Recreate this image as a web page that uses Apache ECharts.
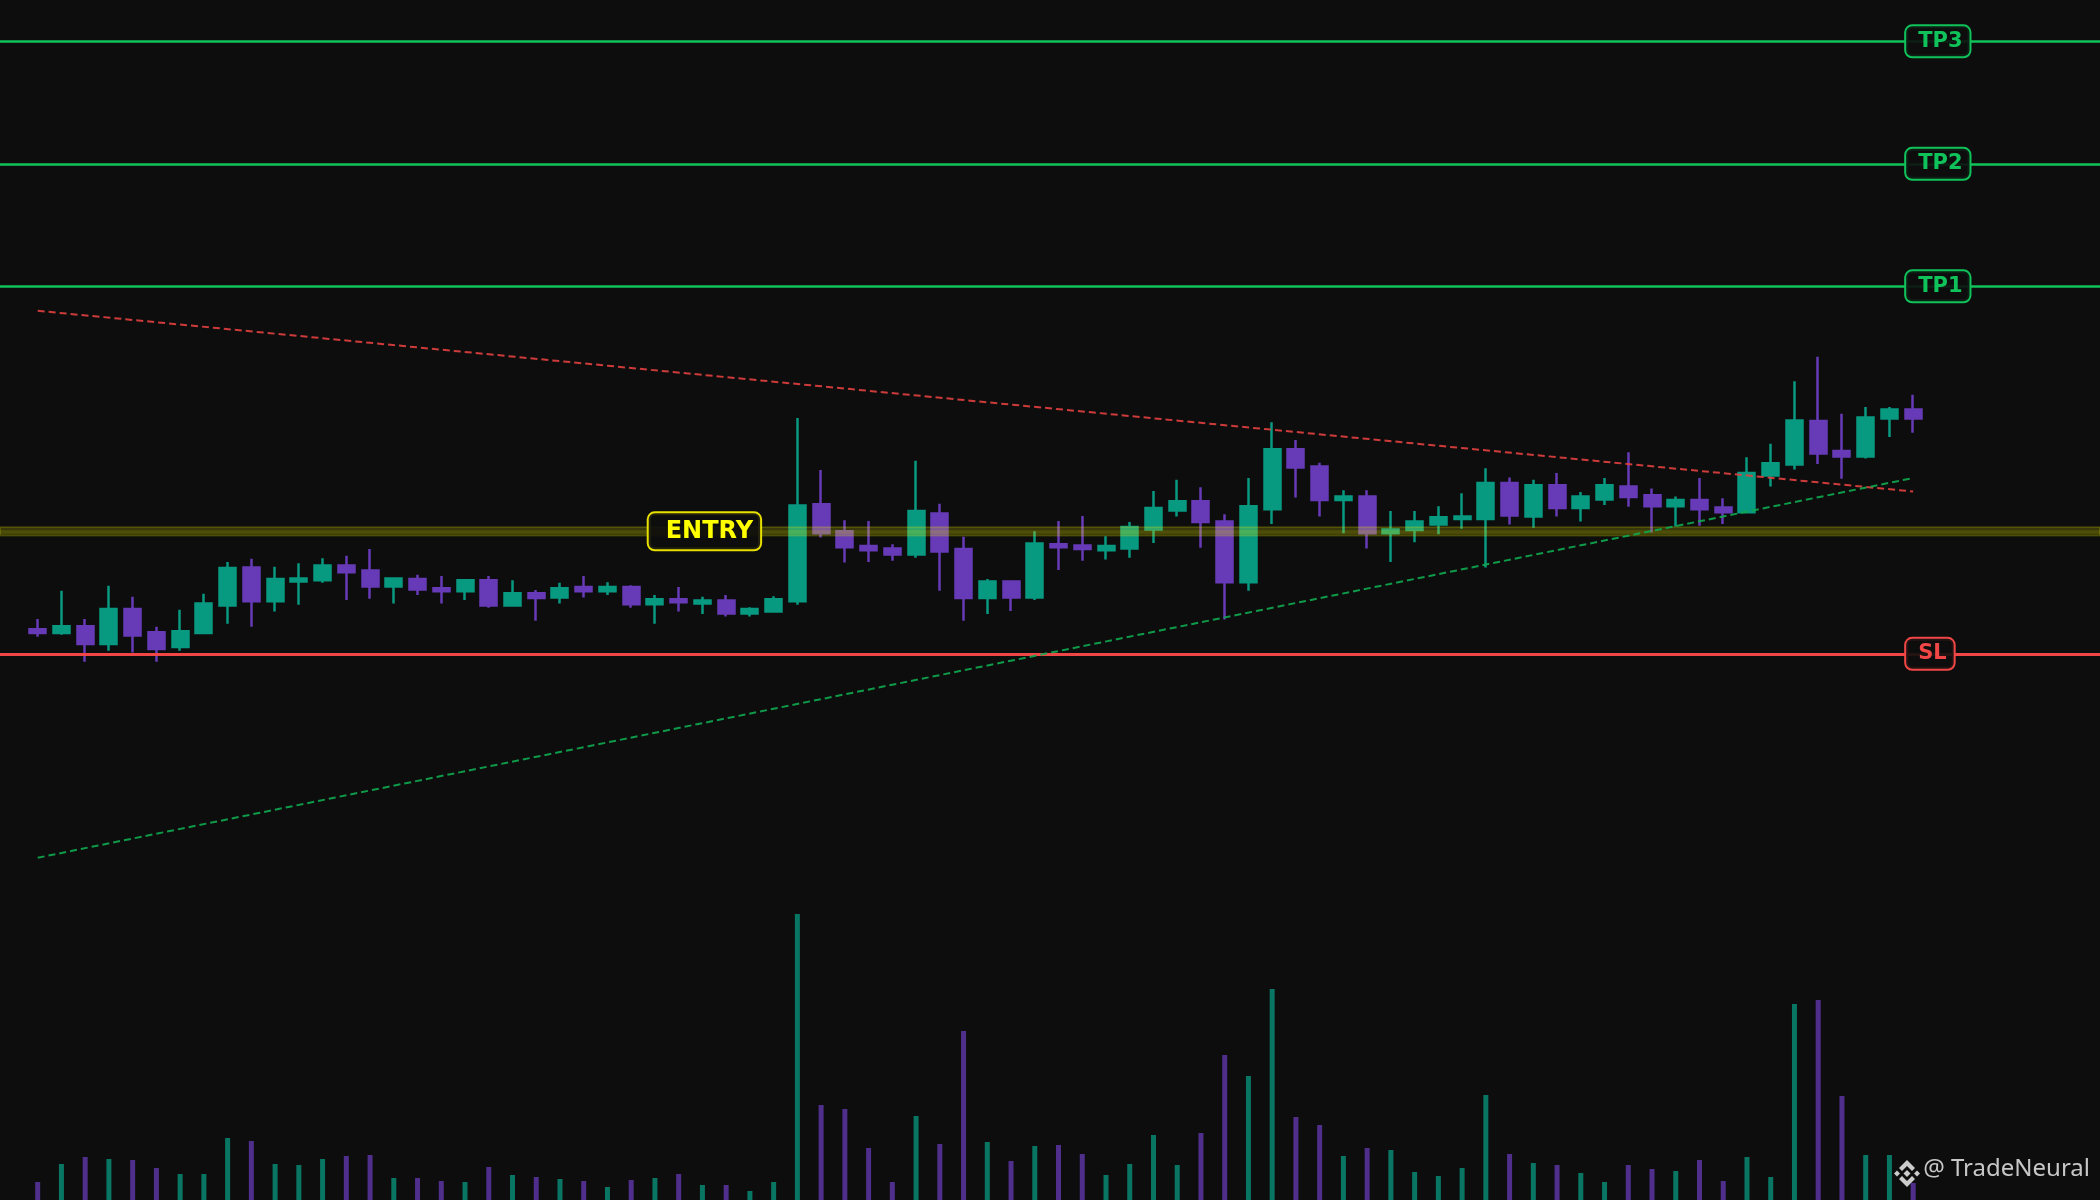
<!DOCTYPE html>
<html>
<head>
<meta charset="utf-8">
<script src="https://cdn.jsdelivr.net/npm/echarts@6/dist/echarts.min.js"></script>
<style>
  html, body { margin: 0; padding: 0; background: #0d0d0d; }
  #chart { width: 2100px; height: 1200px; }
</style>
</head>
<body>
<div id="chart"></div>
<script>
// ---- data ----
const openPrices = [98.40,98.34,98.45,98.16,98.73,98.35,98.11,98.34,98.79,99.41,
  98.86,99.18,99.20,99.44,99.36,99.10,99.22,99.07,99.02,99.20,
  98.79,98.99,98.92,99.09,99.02,99.09,98.81,98.89,98.82,98.87,
  98.66,98.69,98.86,100.44,100.00,99.76,99.72,99.62,100.29,99.71,
  98.91,99.18,98.92,99.79,99.77,99.69,99.72,100.03,100.34,100.49,
  100.16,99.17,100.36,101.34,101.06,100.51,100.57,99.97,100.02,100.11,
  100.20,100.20,100.79,100.24,100.75,100.38,100.52,100.73,100.59,100.41,
  100.51,100.39,100.31,100.91,101.09,101.80,101.31,101.22,101.84,101.99];
const closePrices = [98.34,98.45,98.16,98.73,98.30,98.08,98.37,98.82,99.40,98.86,
  99.22,99.23,99.44,99.33,99.10,99.23,99.05,99.02,99.20,98.79,
  98.99,98.91,99.07,99.02,99.09,98.81,98.89,98.84,98.87,98.66,
  98.73,98.89,100.42,99.97,99.74,99.69,99.62,100.33,99.67,98.91,
  99.18,98.92,99.80,99.74,99.71,99.76,100.07,100.38,100.49,100.15,
  99.17,100.41,101.34,101.04,100.51,100.57,99.97,100.03,100.16,100.23,
  100.24,100.79,100.26,100.75,100.38,100.57,100.75,100.56,100.41,100.51,
  100.36,100.31,100.95,101.11,101.81,101.27,101.22,101.86,101.99,101.84];
const lowPrices = [98.28,98.31,97.87,98.05,98.02,97.87,98.05,98.34,98.49,98.44,
  98.69,98.80,99.16,98.88,98.90,98.82,98.96,98.82,98.88,98.75,
  98.77,98.54,98.82,98.92,98.96,98.75,98.49,98.69,98.65,98.61,
  98.61,98.67,98.80,99.90,99.49,99.50,99.52,99.57,99.03,98.54,
  98.65,98.70,98.88,99.37,99.52,99.54,99.57,99.81,100.24,99.73,
  98.56,99.03,100.12,100.55,100.24,99.97,99.72,99.50,99.82,99.95,
  100.04,99.41,100.11,100.06,100.24,100.16,100.43,100.40,99.98,100.08,
  100.09,100.12,100.31,100.73,101.01,101.10,100.86,101.19,101.54,101.61];
const highPrices = [98.57,99.03,98.57,99.11,98.93,98.44,98.72,98.98,99.50,99.55,
  99.42,99.48,99.56,99.60,99.71,99.24,99.29,99.27,99.22,99.27,
  99.20,99.04,99.16,99.27,99.17,99.12,98.96,99.09,98.93,98.96,
  98.76,98.94,101.85,101.00,100.18,100.17,99.79,101.15,100.45,99.91,
  99.22,99.20,100.00,100.17,100.25,99.92,100.15,100.66,100.84,100.72,
  100.28,100.87,101.78,101.49,101.12,100.67,100.67,100.33,100.33,100.41,
  100.62,101.03,100.88,100.84,100.95,100.64,100.87,101.29,100.70,100.57,
  100.87,100.54,101.21,101.43,102.45,102.85,101.92,102.03,102.03,102.23];
const volumes = [180,360,430,410,400,320,260,260,620,590,
  360,350,410,440,450,220,220,190,180,330,
  250,230,210,190,130,200,220,260,150,150,
  90,180,2860,950,910,520,180,840,560,1690,
  580,390,540,550,460,250,360,650,350,670,
  1450,1240,2110,830,750,440,520,500,280,240,
  320,1050,460,370,350,270,180,350,310,290,
  400,190,430,230,1960,2000,1040,450,450,170];

const levelNames  = ['TP3', 'TP2', 'TP1', 'ENTRY', 'SL'];
const levelPrices = [108, 106, 104, 100, 98];
const entryZone   = [99.93, 100.07];
const entryLabelBar = 28;
const resistanceLine = [[0, 103.60], [79, 100.65]];
const supportLine    = [[0, 94.67], [79, 100.87]];

// ---- styles ----
const UP = '#089981', DOWN = '#673ab7';
const GREEN = '#10c25a', RED = '#f04646', YELLOW = '#ffff00';
const BG = '#0d0d0d';
const lastBar = openPrices.length - 1;

const candleData = openPrices.map((o, i) => [i, o, closePrices[i], lowPrices[i], highPrices[i]]);
const volumeData = volumes.map((v, i) => ({
  value: [i, v],
  itemStyle: { color: closePrices[i] >= openPrices[i] ? 'rgba(8,153,129,0.75)' : 'rgba(103,58,183,0.75)' }
}));

const levelColor = name => name === 'SL' ? RED : (name === 'ENTRY' ? YELLOW : GREEN);

const markLines = levelNames.map((n, i) => {
  if (n === 'ENTRY') return { yAxis: levelPrices[i], lineStyle: { color: 'rgba(230,230,0,0.13)', width: 3.5, type: 'solid' } };
  return { yAxis: levelPrices[i], lineStyle: { color: levelColor(n), width: n === 'SL' ? 3 : 2.5, type: 'solid' } };
});

const labelData = levelNames.map((n, i) => {
  const isEntry = n === 'ENTRY';
  const c = levelColor(n);
  return {
    value: [isEntry ? entryLabelBar : lastBar, levelPrices[i]],
    label: {
      show: true,
      formatter: n,
      position: 'inside',
      align: isEntry ? 'center' : 'left',
      verticalAlign: 'middle',
      offset: isEntry ? [2, 0] : [-7, 0],
      color: isEntry ? YELLOW : c,
      opacity: 1,
      textBorderWidth: 0,
      fontFamily: 'DejaVu Sans',
      fontWeight: 'bold',
      fontSize: isEntry ? 24 : 21,
      lineHeight: isEntry ? 26 : 22,
      backgroundColor: 'rgba(13,13,13,0.9)',
      borderColor: isEntry ? '#e8e000' : c,
      borderWidth: 2,
      borderRadius: 6,
      padding: isEntry ? [5, 7, 5, 17] : [4, 7, 4, 12]
    }
  };
});

const xMin = -1.588, xMax = 86.87;

const chart = echarts.init(document.getElementById('chart'), null, { renderer: 'canvas' });
chart.setOption({
  backgroundColor: BG,
  animation: false,
  grid: [
    { left: 0, right: 0, top: 10.675, height: 918.75 },
    { left: 0, right: 0, top: 800, bottom: 0 }
  ],
  xAxis: [
    { type: 'value', gridIndex: 0, min: xMin, max: xMax, show: false },
    { type: 'value', gridIndex: 1, min: xMin, max: xMax, show: false }
  ],
  yAxis: [
    { type: 'value', gridIndex: 0, min: 93.5, max: 108.5, show: false },
    { type: 'value', gridIndex: 1, min: 0, max: 4000, show: false }
  ],
  series: [
    {
      type: 'bar',
      xAxisIndex: 1, yAxisIndex: 1,
      data: volumeData,
      barWidth: 5,
      z: 1
    },
    {
      type: 'candlestick',
      xAxisIndex: 0, yAxisIndex: 0,
      data: candleData,
      encode: { x: 0, y: [1, 2, 3, 4] },
      barWidth: 16.5,
      itemStyle: {
        color: UP, color0: DOWN,
        borderColor: UP, borderColor0: DOWN,
        borderWidth: 2.5
      },
      z: 2,
      markArea: {
        silent: true,
        z: 4,
        itemStyle: { color: 'rgba(230,230,0,0.2)', borderColor: 'rgba(230,230,0,0.22)', borderWidth: 1.7 },
        data: [[{ yAxis: entryZone[0] }, { yAxis: entryZone[1] }]]
      },
      markLine: {
        silent: true,
        z: 5,
        symbol: ['none', 'none'],
        label: { show: false },
        data: markLines
      }
    },
    {
      type: 'line',
      xAxisIndex: 0, yAxisIndex: 0,
      data: resistanceLine,
      symbol: 'none',
      lineStyle: { color: 'rgba(226,64,64,0.9)', width: 2, type: [7, 4] },
      z: 6
    },
    {
      type: 'line',
      xAxisIndex: 0, yAxisIndex: 0,
      data: supportLine,
      symbol: 'none',
      lineStyle: { color: 'rgba(16,170,80,0.9)', width: 2, type: [7, 4] },
      z: 6
    },
    {
      type: 'scatter',
      xAxisIndex: 0, yAxisIndex: 0,
      data: labelData,
      symbolSize: 1,
      itemStyle: { color: 'rgba(0,0,0,0)', opacity: 1 },
      silent: true,
      z: 10
    }
  ],
  graphic: [
    {
      type: 'group',
      left: 1894, top: 1160,
      z: 100,
      children: [
        { type: 'polygon', shape: { points: [[13.5,0],[21.5,8],[18.5,11],[13.5,6],[8.5,11],[5.5,8]] }, style: { fill: 'rgba(225,225,225,0.9)' } },
        { type: 'polygon', shape: { points: [[13.5,27],[21.5,19],[18.5,16],[13.5,21],[8.5,16],[5.5,19]] }, style: { fill: 'rgba(225,225,225,0.9)' } },
        { type: 'polygon', shape: { points: [[0.5,13.5],[3.5,10.5],[6.5,13.5],[3.5,16.5]] }, style: { fill: 'rgba(225,225,225,0.9)' } },
        { type: 'polygon', shape: { points: [[20.5,13.5],[23.5,10.5],[26.5,13.5],[23.5,16.5]] }, style: { fill: 'rgba(225,225,225,0.9)' } },
        { type: 'polygon', shape: { points: [[13.5,10],[17,13.5],[13.5,17],[10,13.5]] }, style: { fill: 'rgba(225,225,225,0.9)' } }
      ]
    },
    {
      type: 'text',
      right: 10, top: 1157,
      z: 100,
      style: {
        text: '@ TradeNeural',
        fill: 'rgba(220,220,220,0.9)',
        font: '24px "Noto Sans"'
      }
    }
  ]
});
</script>
</body>
</html>
